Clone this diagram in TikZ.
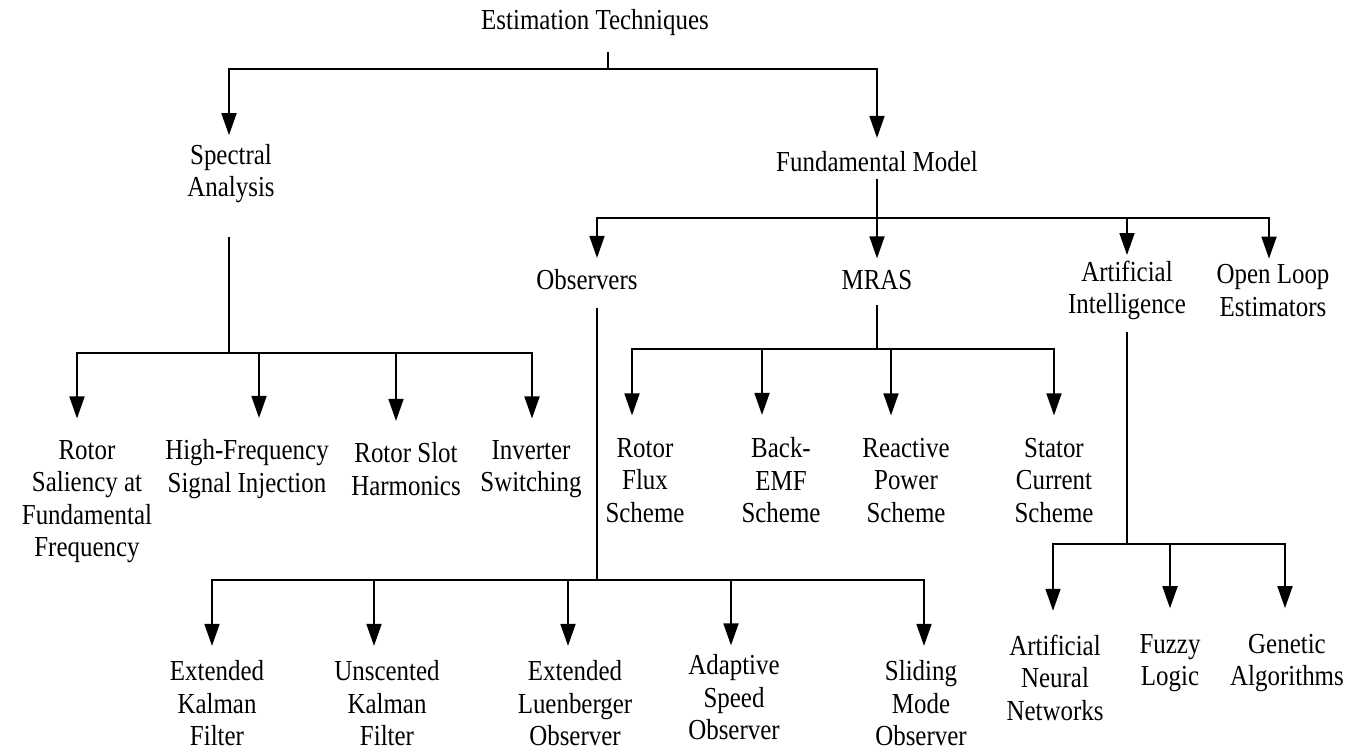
\documentclass[tikz,border=0pt]{standalone}
\usepackage{fontspec}
\setmainfont{Liberation Serif}[FakeStretch=0.86]
\usetikzlibrary{arrows.meta}

\begin{document}
\begin{tikzpicture}[x=0.5pt,y=-0.5pt,
  lbl/.style={align=center,inner sep=0pt,font=\fontsize{14.5}{16.25}\selectfont},
  link/.style={line width=0.9pt},
  arr/.style={link,-{Triangle[length=11pt,width=7.5pt]}}]
\useasboundingbox (0,0) rectangle (1356,755);

\node[lbl] (et) at (595,23) {Estimation Techniques};
\node[lbl] (sa) at (231,173.5) {Spectral\\Analysis};
\node[lbl] (fm) at (877,162) {Fundamental Model};
\node[lbl] (obs) at (587,280) {Observers};
\node[lbl] (mras) at (877,280) {MRAS};
\node[lbl] (ai) at (1127,290.5) {Artificial\\Intelligence};
\node[lbl] (ol) at (1273,290.5) {Open Loop\\Estimators};

\node[lbl] (s1) at (87,501.75) {Rotor\\Saliency at\\Fundamental\\Frequency};
\node[lbl] (s2) at (247,469.25) {High-Frequency\\Signal Injection};
\node[lbl] (s3) at (406,469.25) {Rotor Slot\\Harmonics};
\node[lbl] (s4) at (531,469.25) {Inverter\\Switching};

\node[lbl] (m1) at (645,480.5) {Rotor\\Flux\\Scheme};
\node[lbl] (m2) at (781,480.5) {Back-\\EMF\\Scheme};
\node[lbl] (m3) at (906,480.5) {Reactive\\Power\\Scheme};
\node[lbl] (m4) at (1054,480.5) {Stator\\Current\\Scheme};

\node[lbl] (o1) at (217,703.5) {Extended\\Kalman\\Filter};
\node[lbl] (o2) at (387,703.5) {Unscented\\Kalman\\Filter};
\node[lbl] (o3) at (575,703.5) {Extended\\Luenberger\\Observer};
\node[lbl] (o4) at (734,697.5) {Adaptive\\Speed\\Observer};
\node[lbl] (o5) at (921,703.5) {Sliding\\Mode\\Observer};

\node[lbl] (a1) at (1055,677.5) {Artificial\\Neural\\Networks};
\node[lbl] (a2) at (1170,663) {Fuzzy\\Logic};
\node[lbl] (a3) at (1287,663) {Genetic\\Algorithms};

\coordinate (etbus) at (608,69);
\coordinate (sabus) at (229,353);
\coordinate (fmbus) at (877,218);
\coordinate (mrbus) at (877,349);
\coordinate (obbus) at (597,580);
\coordinate (aibus) at (1127,544);

\draw[link,shorten <=7.5pt] (et.south -| etbus) -- (etbus);
\draw[arr,shorten >=4.25pt] (etbus) -| ([xshift=-1pt]sa.north);
\draw[arr,shorten >=6.75pt] (etbus) -| (fm.north);

\draw[link,shorten <=17pt] (sa.south -| sabus) -- (sabus);
\foreach \n/\dx in {s1/-5,s2/6,s3/-5,s4/0.5}
  \draw[arr,shorten >=10.75pt] (sabus) -| ([xshift=\dx pt]\n.north);

\draw[arr,shorten <=3pt,shorten >=5.75pt] (fm) -- (mras);
\foreach \n/\dx/\gap in {obs/5/5.75,ai/0/2.75,ol/-2/2.75}
  \draw[arr,shorten >=\gap pt] (fmbus) -| ([xshift=\dx pt]\n.north);

\draw[link,shorten <=7.5pt] (mras) -- (mrbus);
\foreach \n/\dx in {m1/-6.5,m2/-9.5,m3/-7.5,m4/0}
  \draw[arr,shorten >=11.25pt] (mrbus) -| ([xshift=\dx pt]\n.north);

\draw[link,shorten <=8.5pt] (obs.south -| obbus) -- (obbus);
\foreach \n/\dx/\gap in {o1/-2.5/7.25,o2/-6.5/7.25,o3/-3.5/7.25,o4/-1.5/4.5,o5/1.5/7.25}
  \draw[arr,shorten >=\gap pt] (obbus) -| ([xshift=\dx pt]\n.north);

\draw[link,shorten <=6pt] (ai) -- (aibus);
\foreach \n/\dx/\gap in {a1/-1/11.75,a2/0/12.75,a3/-1/12.75}
  \draw[arr,shorten >=\gap pt] (aibus) -| ([xshift=\dx pt]\n.north);
\end{tikzpicture}
\end{document}
